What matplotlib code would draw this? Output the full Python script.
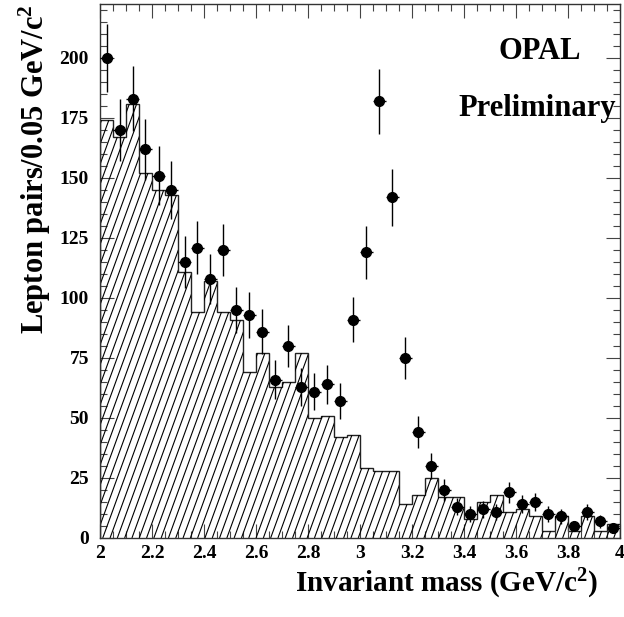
"""OPAL preliminary: lepton-pair invariant mass spectrum near the J/psi."""

import matplotlib
matplotlib.use("Agg")
import matplotlib.pyplot as plt
import numpy as np
from matplotlib.collections import LineCollection
from matplotlib.ticker import MultipleLocator

plt.rcParams["font.family"] = ["Liberation Serif", "DejaVu Serif"]
plt.rcParams["font.weight"] = "bold"
plt.rcParams["mathtext.fontset"] = "custom"
plt.rcParams["mathtext.rm"] = "Liberation Serif:bold"
plt.rcParams["mathtext.it"] = "Liberation Serif:bold"
plt.rcParams["mathtext.bf"] = "Liberation Serif:bold"

# 40 bins of 0.05 GeV/c^2 from 2 to 4
bin_edges = np.linspace(2.0, 4.0, 41)

# hatched histogram (background expectation)
background = [174, 167, 181, 152, 145, 143, 111, 94, 107, 94,
              91, 69, 77, 63, 65, 77, 50, 51, 42, 43,
              29, 28, 28, 14, 18, 25, 17, 17, 8, 15,
              18, 11, 12, 9, 3, 9, 3, 9, 3, 6]

# data points (lepton pairs per bin)
data_counts = [200, 170, 183, 162, 151, 145, 115, 121, 108, 120,
               95, 93, 86, 66, 80, 63, 61, 64, 57, 91,
               119, 182, 142, 75, 44, 30, 20, 13, 10, 12,
               11, 19, 14, 15, 10, 9, 5, 11, 7, 4]

fig = plt.figure(figsize=(6.24, 6.17), dpi=100)
ax = fig.add_axes([100 / 624, 1 - 538 / 617, 520 / 624, 534 / 617])

# background histogram: outline + clipping region for the hatch
fill_patch = ax.stairs(background, bin_edges, fill=True, facecolor="none",
                       edgecolor="none", baseline=0)
ax.stairs(background, bin_edges, fill=False, color="#222222", linewidth=1.0)

# steep "///" hatch drawn in axes coordinates, clipped to the histogram
w_px, h_px = 520.0, 534.0
angle = np.deg2rad(70)
dx = (h_px / np.tan(angle)) / w_px
step = 7.3 / w_px
starts = np.arange(-dx - step, 1.0 + step, step)
segments = [[(x0, 0.0), (x0 + dx, 1.0)] for x0 in starts]
hatch = LineCollection(segments, colors="black", linewidths=0.8,
                       transform=ax.transAxes)
ax.add_collection(hatch)
hatch.set_clip_path(fill_patch)

# data points with Poisson errors
centers = 0.5 * (bin_edges[:-1] + bin_edges[1:])
counts = np.array(data_counts, dtype=float)
ax.errorbar(centers, counts, yerr=np.sqrt(counts), xerr=0.025, fmt="o",
            color="black", markersize=7, elinewidth=1.0, capsize=0, zorder=5)

ax.set_xlim(2.0, 4.0)
ax.set_ylim(0, 222.5)
ax.xaxis.set_minor_locator(MultipleLocator(0.05))
ax.yaxis.set_major_locator(MultipleLocator(25))
ax.yaxis.set_minor_locator(MultipleLocator(5))
ax.set_xticks(np.arange(2.0, 4.01, 0.2))
ax.set_xticklabels(["2", "2.2", "2.4", "2.6", "2.8", "3", "3.2", "3.4",
                    "3.6", "3.8", "4"])
ax.tick_params(which="both", direction="in", top=True, right=True,
               labelsize=14, width=0.8, color="#444444")
ax.tick_params(which="major", length=10)
ax.tick_params(axis="x", which="major", pad=5)
ax.tick_params(axis="y", which="major", pad=8)
ax.tick_params(which="minor", length=5)
for label in ax.get_xticklabels() + ax.get_yticklabels():
    label.set_fontweight("bold")
for spine in ax.spines.values():
    spine.set_linewidth(1.0)
    spine.set_color("#333333")

fig.text(0.958, 1 - 592 / 617, r"Invariant mass (GeV/c$^{2}$)",
         ha="right", va="baseline", fontsize=21, fontweight="bold")
fig.text(0.056, 0.993, r"Lepton pairs/0.05 GeV/c$^{2}$", rotation=90,
         ha="center", va="top", fontsize=22, fontweight="bold")
fig.text(540 / 624, 1 - 59 / 617, "OPAL", ha="center", va="baseline",
         fontsize=22, fontweight="bold")
fig.text(537 / 624, 1 - 116 / 617, "Preliminary", ha="center",
         va="baseline", fontsize=22, fontweight="bold")

fig.savefig("out.png", dpi=100)
